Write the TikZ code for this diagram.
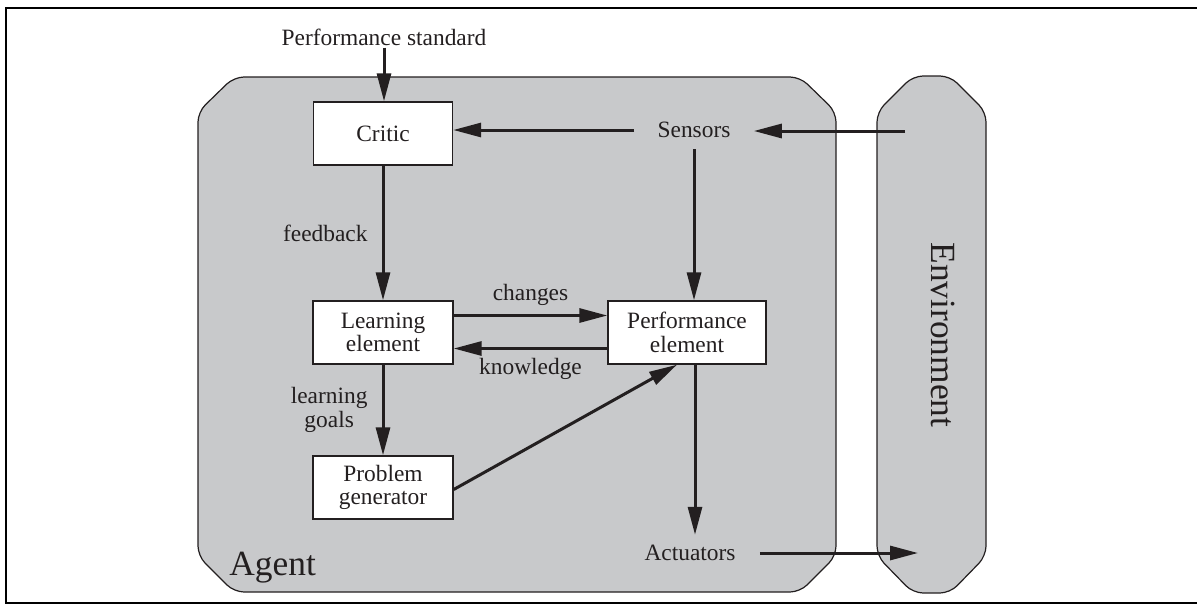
\documentclass[tikz,border=0pt]{standalone}
\usepackage{fontspec}
\setmainfont{Liberation Serif}
\usetikzlibrary{arrows.meta,calc}
\definecolor{agentgray}{RGB}{200,201,203}
\definecolor{ink}{RGB}{35,31,32}
\begin{document}
\begin{tikzpicture}[x=0.5pt,y=-0.5pt,
  lbl/.style={text=ink, font=\fontsize{11.7}{11.8}\selectfont, inner sep=1pt, align=center},
  box/.style={draw=ink, fill=white, text=ink, line width=0.7pt, font=\fontsize{11.7}{11.8}\selectfont, align=center, minimum height=31.5pt, inner sep=0pt},
  arr/.style={draw=ink, line width=1.5pt, -{Triangle[length=14pt,width=7pt]}},
  region/.style={draw=ink, fill=agentgray, line width=0.6pt, rounded corners=5pt},
  big/.style={text=ink, font=\fontsize{17.7}{18}\selectfont, inner sep=0pt}
]
\useasboundingbox (0,0) rectangle (1197,605);
\draw[line width=1pt] (6,8) rectangle (1215,603);

% Agent and Environment regions
\path[region] (198,330) -- (198,112) -- (234,77) -- (800,77) -- (836,112) -- (836,556) -- (800,592) -- (234,592) -- (198,556) -- cycle;
\path[region] (877,330) -- (877,112) -- (913,76) -- (950,76) -- (986,112) -- (986,556) -- (950,593) -- (913,593) -- (877,556) -- cycle;

\node[big, anchor=base west] (agent) at (229,575) {Agent};
\node[big, anchor=base, rotate=-90] (env) at (931,335) {Environment};

% Boxes
\node[box, minimum width=69.5pt] (critic) at (383,133.5) {Critic};
\node[box, minimum width=70pt] (learn) at (383,332.5) {Learning\\element};
\node[box, minimum width=70pt] (prob) at (383,487.5) {Problem\\generator};
\node[box, minimum width=79pt] (perf) at (687,332.5) {Performance\\element};

% Text nodes
\node[lbl, anchor=base] (ps) at (384,45) {Performance standard};
\node[lbl, inner xsep=11.5pt, inner ysep=5.5pt] (sensors) at (694,130) {Sensors};
\node[lbl, inner xsep=12pt, inner ysep=5pt] (act) at (690,553) {Actuators};
\coordinate (envin) at (905,131);
\coordinate (envout) at (918,553);

% Connectors
\draw[arr] (ps.south) -- (ps.south |- critic.north);
\draw[arr] (sensors.west) -- (sensors.west -| critic.east);
\draw[arr] (envin) -- (envin -| sensors.east);
\draw[arr] (sensors.south) -- (sensors.south |- perf.north);
\draw[arr] (critic.south) -- (learn.north) node[lbl, midway, left=6pt] {feedback};
\draw[arr] ([yshift=8.5pt]learn.east) -- ([yshift=8.5pt]perf.west) node[lbl, midway, above=3pt] {changes};
\draw[arr] ([yshift=-8pt]perf.west) -- ([yshift=-8pt]learn.east) node[lbl, midway, below=3pt] {knowledge};
\draw[arr] (learn.south) -- (prob.north) node[lbl, midway, left=6pt] {learning\\goals};
\draw[arr] ([yshift=-1pt]prob.east) -- ([xshift=-5pt]perf.south);
\draw[arr] ([xshift=4pt]perf.south) -- ([xshift=4pt]perf.south |- act.north);
\draw[arr] (act.east) -- (envout);
\end{tikzpicture}
\end{document}
